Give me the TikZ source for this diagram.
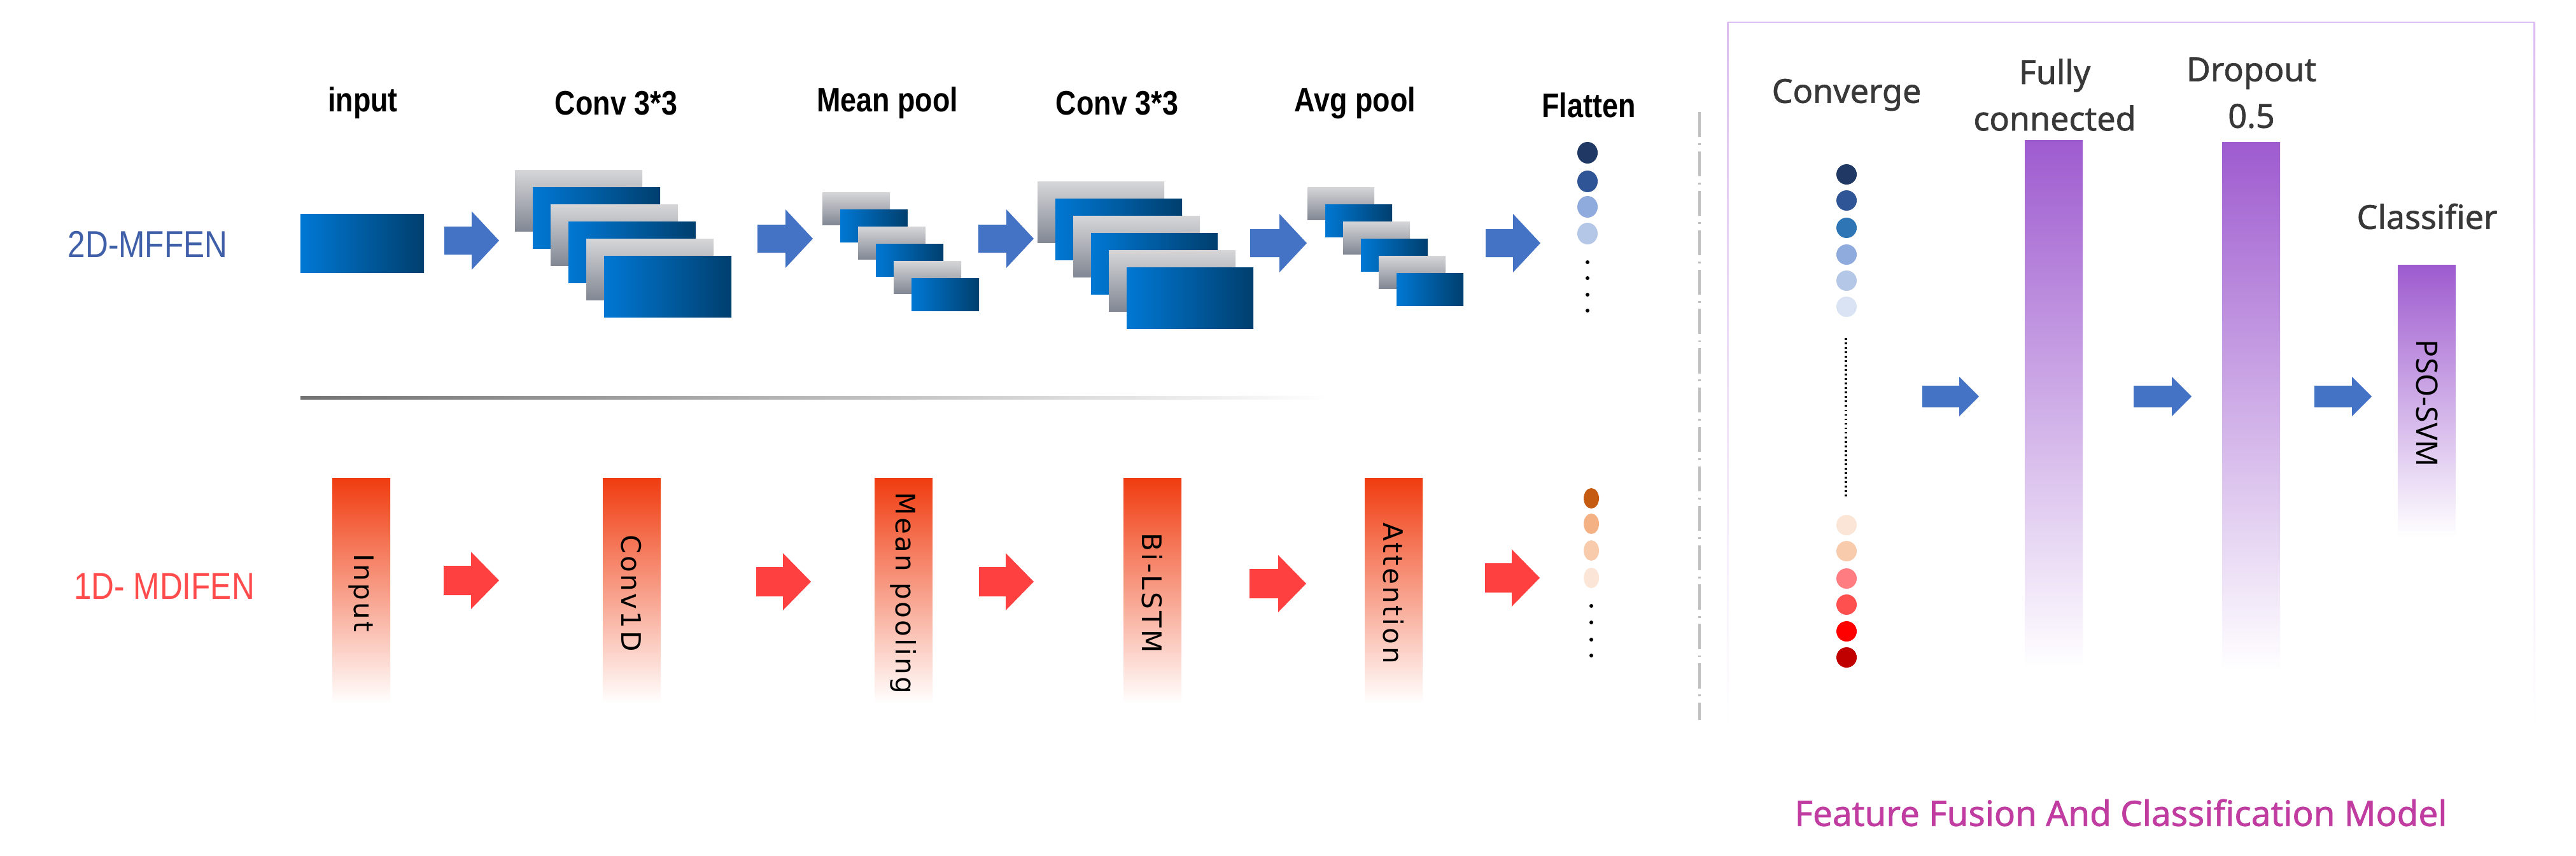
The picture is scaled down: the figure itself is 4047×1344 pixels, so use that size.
\documentclass[tikz,border=0pt]{standalone}
\usepackage{fontspec}
\setmainfont{Liberation Sans}
\newfontfamily\narrowf{Liberation Sans}[FakeStretch=0.84]
\newfontfamily\notof{Noto Sans}
\newfontfamily\notom{Noto Sans}[FakeBold=1.2]
\newfontfamily\dejaf{DejaVu Sans}[LetterSpace=8]
\definecolor{lblue}{HTML}{3F5FA8}
\definecolor{arrblue}{HTML}{4472C4}
\definecolor{arrred}{HTML}{FF4040}
\definecolor{lred}{HTML}{FF4B4B}
\definecolor{barred}{HTML}{F03C10}
\definecolor{barpur}{HTML}{9E5BCF}
\definecolor{boxpur}{HTML}{DDBDF2}
\definecolor{titlec}{HTML}{C03CA0}
\definecolor{txtg}{HTML}{383838}
\tikzset{
  lab/.style={font=\narrowf\bfseries\fontsize{38}{40}\selectfont, text=black},
  rowlab/.style={font=\narrowf\fontsize{42}{44}\selectfont},
  rlab/.style={font=\notom\fontsize{37}{52}\selectfont, text=txtg, align=center},
  bartxt/.style={font=\dejaf\fontsize{30}{32}\selectfont, rotate=-90, text=black},
  bsheet/.style={left color={rgb,255:red,0;green,120;blue,212}, right color={rgb,255:red,0;green,63;blue,110}, draw=none},
  gsheet/.style={top color={rgb,255:red,214;green,214;blue,216}, bottom color={rgb,255:red,130;green,136;blue,148}, draw=none},
  redbar/.style={top color=barred, bottom color=white, draw=none},
  purbar/.style={top color=barpur, bottom color=white, draw=none},
}
% block arrow: x0, x1, yc, shaft half, head half, head length, colour
\newcommand{\blockarrow}[7]{%
  \fill[#7] (#1,#3-#4) -- (#2-#6,#3-#4) -- (#2-#6,#3-#5) -- (#2,#3) -- (#2-#6,#3+#5) -- (#2-#6,#3+#4) -- (#1,#3+#4) -- cycle;}
% stack of sheets: x, y, w, h
\newcommand{\sheetstack}[4]{%
  \foreach \i in {0,...,5}{%
    \ifodd\i
      \fill[bsheet] (#1+28*\i,#2+27*\i) rectangle ++(#3,#4);
    \else
      \fill[gsheet] (#1+28*\i,#2+27*\i) rectangle ++(#3,#4);
    \fi}}
\begin{document}
\begin{tikzpicture}[x=0.025cm,y=-0.025cm]
\useasboundingbox (0,0) rectangle (4047,1344);
\fill[white] (0,0) rectangle (4047,1344);
% top labels
\node[lab] (l1) at (570,162) {input};
\node[lab] (l2) at (968,162) {Conv 3*3};
\node[lab] (l3) at (1394,162) {Mean pool};
\node[lab] (l4) at (1755,162) {Conv 3*3};
\node[lab] (l5) at (2129,162) {Avg pool};
\node[lab] (l6) at (2496,165) {Flatten};
\node[rowlab, text=lblue] (r2d) at (232,384) {2D-MFFEN};
\node[rowlab, text=lred] (r1d) at (258,921) {1D- MDIFEN};
% input box
\fill[bsheet] (472,336) rectangle (666,428);
% stacks
\sheetstack{809}{267}{200}{96}
\sheetstack{1292}{302}{106}{51}
\sheetstack{1630}{285}{199}{96}
\sheetstack{2054}{294}{105}{51}
% blue arrows
\blockarrow{698}{784}{378}{22}{46}{43}{arrblue}
\blockarrow{1190}{1277}{375}{22}{46}{43}{arrblue}
\blockarrow{1537}{1624}{375}{22}{46}{43}{arrblue}
\blockarrow{1964}{2053}{382}{22}{46}{43}{arrblue}
\blockarrow{2334}{2420}{382}{22}{46}{43}{arrblue}
% flatten dots
\foreach \y/\c in {240/1F3864,285/2F5597,325/8FAADC,367/B4C7E7}{
  \definecolor{tmpc}{HTML}{\c}\fill[tmpc] (2494,\y) ellipse (16 and 17);}
\foreach \y in {412,437,463,488}{\fill[black] (2494,\y) circle (3);}
% separator line
\fill[left color=black!55, right color=white] (472,622) rectangle (2090,627);
% red bars
\foreach \x/\t/\n in {522/Input/b1,947/Conv1D/b2,1374/Mean pooling/b3,1765/Bi-LSTM/b4,2144/Attention/b5}{
  \fill[redbar] (\x,751) rectangle (\x+91,1105);
  \node[bartxt] (\n) at (\x+45,932) {\t};}
% red arrows
\blockarrow{697}{784}{912}{23}{45}{44}{arrred}
\blockarrow{1188}{1274}{914}{23}{45}{44}{arrred}
\blockarrow{1538}{1624}{914}{23}{45}{44}{arrred}
\blockarrow{1963}{2052}{917}{23}{45}{44}{arrred}
\blockarrow{2333}{2419}{908}{23}{45}{44}{arrred}
% orange dots
\foreach \y/\c in {783/C55A11,823/F4B183,865/F8CBAD,908/FBE5D6}{
  \definecolor{tmpc}{HTML}{\c}\fill[tmpc] (2500,\y) ellipse (12 and 16);}
\foreach \y in {952,978,1005,1030}{\fill[black] (2500,\y) circle (3);}
% dash-dot divider
\draw[black!25, line width=2.2pt, dash pattern=on 28pt off 7pt on 2pt off 7pt] (2670,176) -- (2670,1131);
% right box
\draw[boxpur, line width=2pt] (2714,35) -- (3982,35);
\fill[top color=boxpur, bottom color=white] (2713,35) rectangle (2716,1148);
\fill[top color=boxpur, bottom color=white] (3980,35) rectangle (3983,1148);
% right labels
\node[rlab] (conv) at (2901,149) {Converge};
\node[rlab] (fc) at (3228,149) {Fully\\connected};
\node[rlab] (dp) at (3537,146) {Dropout\\0.5};
\node[rlab] (cl) at (3813,340) {Classifier};
% converge dots
\foreach \y/\c in {274/1F3864,315/2F5597,358/2E75B6,400/8FAADC,441/B4C7E7,482/DAE3F3,825/FBE5D6,866/F8CBAD,909/FF7C80,950/FF5050,992/FF0000,1033/C00000}{
  \definecolor{tmpc}{HTML}{\c}\fill[tmpc] (2901,\y) circle (16);}
\draw[black, line width=2.2pt, dash pattern=on 2pt off 3pt] (2900,531) -- (2900,780);
% purple bars
\fill[purbar] (3181,220) rectangle (3272,1050);
\fill[purbar] (3491,223) rectangle (3582,1054);
\fill[purbar] (3767,416) rectangle (3858,844);
\node[font=\notof\fontsize{33}{34}\selectfont, rotate=-90, text=black] (pso) at (3813,634) {PSO-SVM};
% right arrows
\blockarrow{3020}{3109}{623}{17}{31}{31}{arrblue}
\blockarrow{3352}{3443}{623}{17}{31}{31}{arrblue}
\blockarrow{3636}{3726}{623}{17}{31}{31}{arrblue}
% title
\node[font=\notom\fontsize{39}{42}\selectfont, text=titlec] (title) at (3332,1277) {Feature Fusion And Classification Model};
\end{tikzpicture}
\end{document}
